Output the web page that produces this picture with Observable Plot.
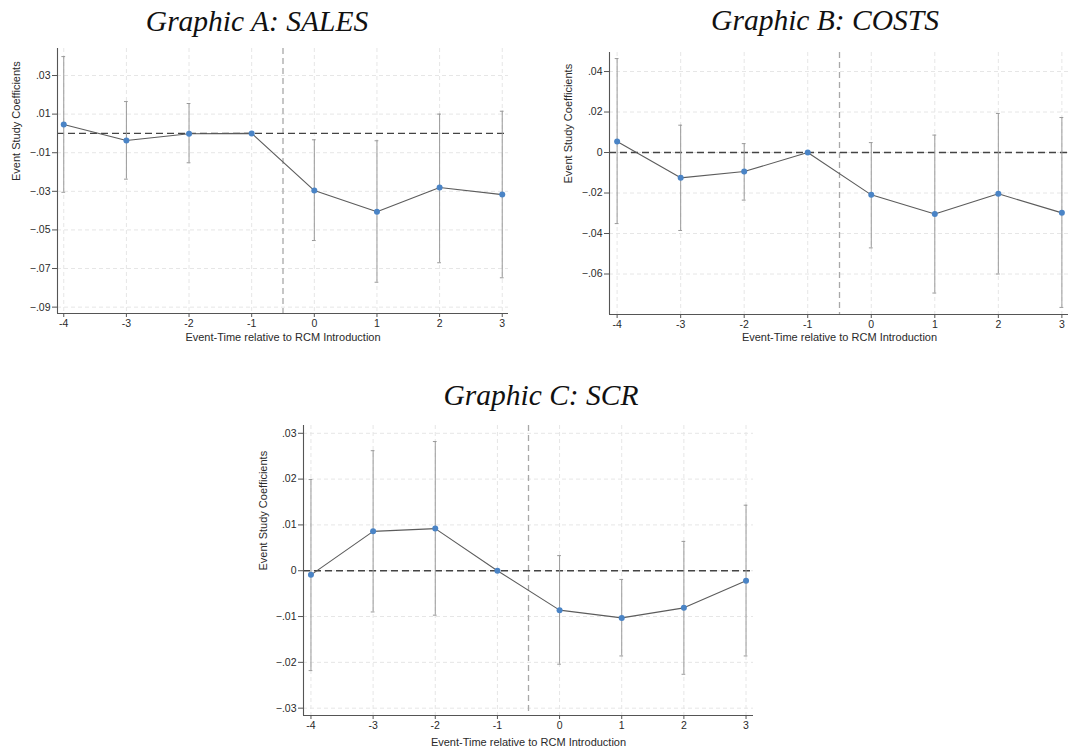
<!DOCTYPE html>
<html>
<head>
<meta charset="utf-8">
<script src="https://cdn.jsdelivr.net/npm/d3@7"></script>
<script src="https://cdn.jsdelivr.net/npm/@observablehq/plot@0.6"></script>
<style>
  html, body { margin: 0; padding: 0; background: #fff; }
  body { width: 1068px; height: 754px; position: relative; overflow: hidden; }
  .panel { position: absolute; width: 540px; }
  .panel svg { max-width: none !important; }
  .title { position: absolute; width: 400px; text-align: center; font-family: "Liberation Serif", "Times New Roman", serif; font-style: italic; font-size: 29.5px; line-height: 1; color: #111; white-space: nowrap; }
</style>
</head>
<body>
<div class="title" style="left:57px;top:7px;">Graphic A: SALES</div>
<div class="title" style="left:625px;top:6px;">Graphic B: COSTS</div>
<div class="title" style="left:341px;top:381px;">Graphic C: SCR</div>
<div id="pA" class="panel" style="left:0px;top:40px;"></div>
<div id="pB" class="panel" style="left:540px;top:40px;"></div>
<div id="pC" class="panel" style="left:240px;top:415px;"></div>
<script>
// ---- data ----
const periods = [-4, -3, -2, -1, 0, 1, 2, 3];

const salesCoef = [0.0046, -0.0037, -0.0002, 0, -0.0296, -0.0406, -0.0280, -0.0317];
const salesLo   = [-0.0305, -0.0237, -0.0152, null, -0.0555, -0.0771, -0.0670, -0.0748];
const salesHi   = [0.0398, 0.0165, 0.0155, null, -0.0033, -0.0038, 0.0100, 0.0115];
const salesTicks = [0.03, 0.01, -0.01, -0.03, -0.05, -0.07, -0.09];

const costsCoef = [0.0054, -0.0125, -0.0094, 0, -0.0209, -0.0304, -0.0204, -0.0298];
const costsLo   = [-0.0351, -0.0385, -0.0235, null, -0.0471, -0.0694, -0.0600, -0.0765];
const costsHi   = [0.0464, 0.0135, 0.0044, null, 0.0049, 0.0086, 0.0193, 0.0173];
const costsTicks = [0.04, 0.02, 0, -0.02, -0.04, -0.06];

const scrCoef = [-0.0009, 0.0086, 0.0092, 0, -0.0086, -0.0103, -0.0081, -0.0022];
const scrLo   = [-0.0218, -0.0090, -0.0097, null, -0.0204, -0.0186, -0.0226, -0.0186];
const scrHi   = [0.0199, 0.0262, 0.0282, null, 0.0033, -0.0019, 0.0064, 0.0143];
const scrTicks = [0.03, 0.02, 0.01, 0, -0.01, -0.02, -0.03];

const xLabel = "Event-Time relative to RCM Introduction";
const yLabel = "Event Study Coefficients";
const treatmentLine = -0.5;

function fmtY(d) {
  if (d === 0) return "0";
  return d3.format(".2f")(d).replace("0.", ".");
}

function panel(coef, lo, hi, yTicks, cfg) {
  const rows = periods.map((p, i) => ({p, c: coef[i], lo: lo[i], hi: hi[i]}));
  const ci = rows.filter(d => d.lo != null);
  return Plot.plot({
    width: cfg.width,
    height: cfg.height,
    marginLeft: cfg.ml,
    marginRight: cfg.mr,
    marginTop: cfg.mt,
    marginBottom: cfg.mb,
    style: {fontFamily: "'Liberation Sans', Arial, sans-serif", fontSize: "10.5px", color: "#2a2a2a", background: "transparent", overflow: "visible", maxWidth: "none"},
    x: {domain: cfg.xDomain, label: null},
    y: {domain: cfg.yDomain, label: null},
    marks: [
      Plot.gridY(yTicks, {stroke: "#e6e6e6", strokeOpacity: 1, strokeDasharray: "4,3"}),
      Plot.gridX(periods, {stroke: "#e6e6e6", strokeOpacity: 1, strokeDasharray: "4,3"}),
      Plot.ruleX([treatmentLine], {stroke: "#a8a8a8", strokeWidth: 1.3, strokeDasharray: "6,4"}),
      Plot.ruleY([0], {stroke: "#444", strokeWidth: 1.4, strokeDasharray: "7,4"}),
      Plot.ruleX(ci, {x: "p", y1: "lo", y2: "hi", stroke: "#9a9a9a", strokeWidth: 1}),
      Plot.ruleY(ci, {y: "lo", x1: d => d.p - 0.03, x2: d => d.p + 0.03, stroke: "#9a9a9a", strokeWidth: 1}),
      Plot.ruleY(ci, {y: "hi", x1: d => d.p - 0.03, x2: d => d.p + 0.03, stroke: "#9a9a9a", strokeWidth: 1}),
      Plot.line(rows, {x: "p", y: "c", stroke: "#5c5c5c", strokeWidth: 1.1}),
      Plot.dot(rows, {x: "p", y: "c", r: 3, fill: "#4a84c6", stroke: "none"}),
      Plot.ruleY([cfg.yDomain[0]], {stroke: "#555", strokeWidth: 1.1}),
      Plot.ruleX([cfg.xDomain[0]], {stroke: "#555", strokeWidth: 1.1}),
      Plot.axisX(periods, {tickSize: 4, tickPadding: 2, tickFormat: d => String(d), label: null, stroke: "#555", fill: "#2a2a2a"}),
      Plot.axisY(yTicks, {tickSize: 5, tickPadding: 2, tickFormat: fmtY, label: null, stroke: "#555", fill: "#2a2a2a"}),
      Plot.text([xLabel], {frameAnchor: "bottom", dy: cfg.xlDy, text: d => d, fontSize: 11, fill: "#2a2a2a"}),
      Plot.text([yLabel], {frameAnchor: "left", dx: cfg.ylDx, rotate: -90, text: d => d, fontSize: 11, fill: "#2a2a2a"})
    ]
  });
}

document.getElementById("pA").appendChild(panel(salesCoef, salesLo, salesHi, salesTicks, {
  width: 540, height: 320, ml: 57, mr: 32, mt: 8, mb: 47,
  xDomain: [-4.1, 3.1], yDomain: [-0.0933, 0.044], xlDy: 27, ylDx: -41
}));
document.getElementById("pB").appendChild(panel(costsCoef, costsLo, costsHi, costsTicks, {
  width: 540, height: 320, ml: 69, mr: 11, mt: 12, mb: 46,
  xDomain: [-4.12, 3.12], yDomain: [-0.080, 0.0494], xlDy: 26, ylDx: -41
}));
document.getElementById("pC").appendChild(panel(scrCoef, scrLo, scrHi, scrTicks, {
  width: 540, height: 339, ml: 63, mr: 27, mt: 10, mb: 39,
  xDomain: [-4.12, 3.12], yDomain: [-0.0316, 0.0317], xlDy: 30, ylDx: -40
}));
</script>
</body>
</html>
